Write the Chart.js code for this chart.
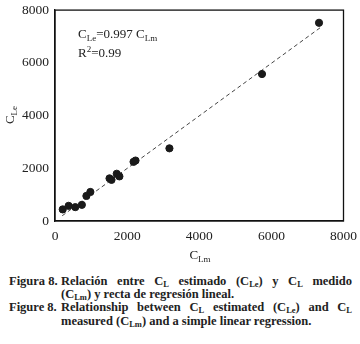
<!DOCTYPE html>
<html>
<head>
<meta charset="utf-8">
<script src="https://cdn.jsdelivr.net/npm/chart.js@4.4.1/dist/chart.umd.min.js"></script>
<style>
  html, body { margin: 0; padding: 0; background: #fff; }
  .wrap { position: relative; width: 360px; height: 344px; overflow: hidden; }
  #chart { position: absolute; left: 0; top: 0; }
  .cap {
    position: absolute; left: 9px; width: 343px;
    font-family: "Liberation Serif", "DejaVu Serif", serif;
    font-weight: bold; font-size: 12.5px; line-height: 13.2px; color: #222;
  }
  .cap .row { display: flex; height: 13.2px; white-space: nowrap; }
  .cap .lab { width: 52px; flex: none; }
  .cap .txt { flex: 1; }
  .cap .just { text-align: justify; text-align-last: justify; }
  .cap sub { font-size: 8.5px; line-height: 0; vertical-align: -2px; }
</style>
</head>
<body>
<div class="wrap">
  <canvas id="chart" width="360" height="262"></canvas>
  <div class="cap" style="top:275px">
    <div class="row"><span class="lab">Figura 8.</span><span class="txt just">Relación entre C<sub>L</sub> estimado (C<sub>Le</sub>) y C<sub>L</sub> medido</span></div>
    <div class="row"><span class="lab"></span><span class="txt">(C<sub>Lm</sub>) y recta de regresión lineal.</span></div>
    <div class="row"><span class="lab">Figure 8.</span><span class="txt just">Relationship between C<sub>L</sub> estimated (C<sub>Le</sub>) and C<sub>L</sub></span></div>
    <div class="row"><span class="lab"></span><span class="txt">measured (C<sub>Lm</sub>) and a simple linear regression.</span></div>
  </div>
</div>
<script>
// measured vs estimated values
const measured = [214, 378, 562, 745, 871, 981, 1512, 1567, 1712, 1786, 2178, 2233, 3173, 5740, 7321];
const estimated = [440, 575, 526, 613, 951, 1101, 1617, 1560, 1793, 1692, 2244, 2293, 2756, 5575, 7519];
// regression line ends (C_Le = 0.997 C_Lm)
const fitX = [200, 7380];
const fitY = [199, 7358];
const xTicks = [0, 2000, 4000, 6000, 8000];
const yTicks = [0, 2000, 4000, 6000, 8000];

const serif = '"Liberation Serif", "DejaVu Serif", serif';

// text with subscripts: parts = [[text, isSub], ...]
function drawParts(ctx, parts, x, y, size, align) {
  const subSize = Math.round(size * 0.68);
  let total = 0;
  parts.forEach(p => {
    ctx.font = (p[1] ? subSize : size) + 'px ' + serif;
    total += ctx.measureText(p[0]).width;
  });
  let cx = align === 'center' ? x - total / 2 : x;
  ctx.textAlign = 'left';
  ctx.textBaseline = 'alphabetic';
  parts.forEach(p => {
    const s = p[1] ? subSize : size;
    ctx.font = s + 'px ' + serif;
    let dy = 0;
    if (p[1] === 1) dy = size * 0.25;
    if (p[1] === 2) dy = -size * 0.4;
    ctx.fillText(p[0], cx, y + dy);
    cx += ctx.measureText(p[0]).width;
  });
}

const extras = {
  id: 'extras',
  afterDraw(chart) {
    const ctx = chart.ctx;
    const a = chart.chartArea;
    ctx.save();
    ctx.strokeStyle = '#111';
    ctx.lineWidth = 1.3;
    ctx.strokeRect(a.left, a.top, a.right - a.left, a.bottom - a.top);
    ctx.fillStyle = '#222';
    drawParts(ctx, [['C', 0], ['Le', 1], ['=0.997 C', 0], ['Lm', 1]], 78, 38, 13, 'left');
    drawParts(ctx, [['R', 0], ['2', 2], ['=0.99', 0]], 78, 57, 13, 'left');
    drawParts(ctx, [['C', 0], ['Lm', 1]], 200, 259, 13, 'center');
    ctx.translate(14, 115);
    ctx.rotate(-Math.PI / 2);
    drawParts(ctx, [['C', 0], ['Le', 1]], 0, 0, 13, 'center');
    ctx.restore();
  }
};

new Chart(document.getElementById('chart'), {
  type: 'scatter',
  data: {
    datasets: [
      {
        data: measured.map((v, i) => ({ x: v, y: estimated[i] })),
        backgroundColor: '#1a1a1a',
        borderColor: '#1a1a1a',
        pointRadius: 3.6,
      },
      {
        type: 'line',
        data: fitX.map((v, i) => ({ x: v, y: fitY[i] })),
        borderColor: '#444',
        borderWidth: 1,
        borderDash: [4, 3],
        pointRadius: 0,
        fill: false,
      },
    ],
  },
  options: {
    responsive: false,
    animation: false,
    layout: { padding: { left: 0, top: 8, right: 13, bottom: 0 } },
    plugins: { legend: { display: false }, tooltip: { enabled: false } },
    scales: {
      x: {
        type: 'linear', min: 0, max: 8000,
        afterBuildTicks: s => { s.ticks = xTicks.map(v => ({ value: v })); },
        afterFit: s => { s.height = 41; },
        grid: { display: false, drawTicks: true, tickLength: 4, tickColor: '#111' },
        border: { color: '#111', width: 1.3 },
        ticks: { color: '#222', font: { family: serif, size: 13.5 }, padding: 3, maxRotation: 0, callback: v => String(v) },
      },
      y: {
        type: 'linear', min: 0, max: 8000,
        afterBuildTicks: s => { s.ticks = yTicks.map(v => ({ value: v })); },
        afterFit: s => { s.width = 55; },
        grid: { display: false, drawTicks: true, tickLength: 4, tickColor: '#111' },
        border: { color: '#111', width: 1.3 },
        ticks: { color: '#222', font: { family: serif, size: 13.5 }, padding: 2, callback: v => String(v) },
      },
    },
  },
  plugins: [extras],
});
</script>
</body>
</html>
